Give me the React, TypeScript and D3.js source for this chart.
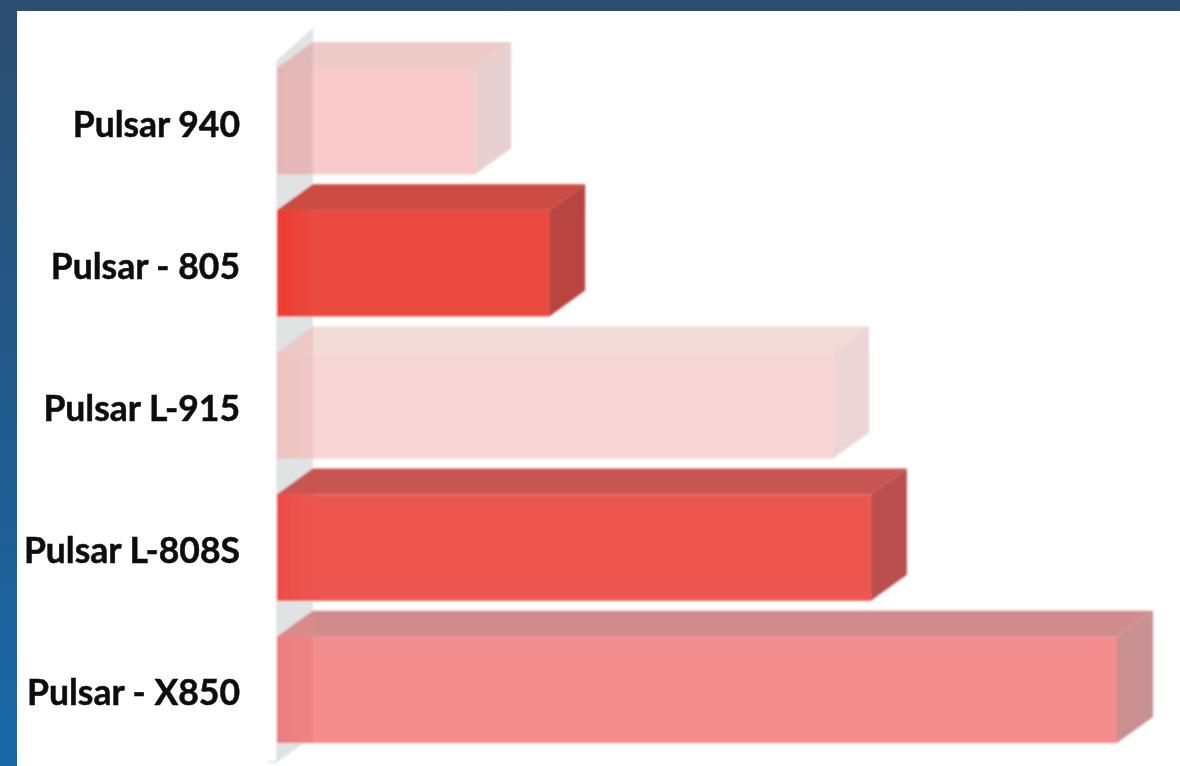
import React from "react";
import * as d3 from "d3";

const categories = ["Pulsar 940", "Pulsar - 805", "Pulsar L-915", "Pulsar L-808S", "Pulsar - X850"];
const values = [23.6, 32.4, 66.2, 70.7, 100];
const frontColors = ["#f8caca", "#ea4a40", "#f8d6d5", "#ec5650", "#f48e8e"];
const topColors = ["#edcbc8", "#cc4b42", "#f1dbd7", "#c95552", "#d08c8c"];
const topLeftColors = ["#e2b9b8", "#cc4b42", "#ecc9c6", "#c95552", "#d98a8a"];
const sideColors = ["#e7d0d0", "#b94440", "#ecd5d5", "#bb4f4e", "#c99092"];
const wallColors = ["#e4b6b6", "#ee3a30", "#eec3c1", "#ee4a46", "#ec7d7d"];
const wallEdgeColors = ["#e6baba", "#ea4a40", "#f0c8c6", "#ec5650", "#ee8383"];

const W = 1180, H = 766;
const x = d3.scaleLinear().domain([0, 100]).range([277, 1117]);
const y = d3.scaleBand<string>().domain(categories).range([68, 743]).paddingInner(0.253);
const dx = 36, dy = -26;
const poly = (p: [number, number][]) => d3.line()(p) + "Z";

export default function App() {
  const bw = y.bandwidth();
  return (
    <svg width={W} height={H} viewBox={`0 0 ${W} ${H}`} style={{ position: "fixed", left: 0, top: 0 }}>
      <defs>
        <linearGradient id="bg" x1="0" y1="0" x2="0" y2="1">
          <stop offset="0" stopColor="#2b4d70" />
          <stop offset="1" stopColor="#1868a8" />
        </linearGradient>
        {categories.map((c, i) => (
          <linearGradient key={c} id={`wall${i}`} x1="0" y1="0" x2="1" y2="0">
            <stop offset="0" stopColor={wallColors[i]} />
            <stop offset="1" stopColor={wallEdgeColors[i]} />
          </linearGradient>
        ))}
        <filter id="soft" x="-5%" y="-5%" width="110%" height="110%">
          <feGaussianBlur stdDeviation="0.9" />
        </filter>
        <filter id="softText"><feGaussianBlur stdDeviation="0.4" /></filter>
      </defs>
      <rect x={0} y={0} width={W} height={H} fill="url(#bg)" />
      <rect x={17} y={11} width={W - 17} height={H - 11} fill="#ffffff" />
      <g filter="url(#soft)">
        <path d={poly([[x(0), 60], [x(0) + dx, 28], [x(0) + dx, 737], [x(0), 762]])} fill="#dfe3e4" />
        <line x1={x(0)} x2={x(0)} y1={60} y2={762} stroke="#d4d8da" strokeWidth={1} />
        <line x1={267} x2={x(0)} y1={762} y2={762} stroke="#c9cccd" strokeWidth={1} />
        {categories.map((c, i) => {
          const x0 = x(0), x1 = x(values[i]), t = y(c)!, b = t + bw;
          return (
            <g key={c}>
              <path d={poly([[x0, t], [x0 + dx, t + dy], [x1 + dx, t + dy], [x1, t]])} fill={topColors[i]} />
              <path d={poly([[x0, t], [x0 + dx, t + dy], [x0 + dx, t]])} fill={topLeftColors[i]} />
              <path d={poly([[x1, t], [x1 + dx, t + dy], [x1 + dx, b + dy], [x1, b]])} fill={sideColors[i]} />
              <rect x={x0} y={t} width={x1 - x0} height={bw} fill={frontColors[i]} />
              <rect x={x0} y={t} width={dx} height={bw} fill={`url(#wall${i})`} />
            </g>
          );
        })}
      </g>
      <g filter="url(#softText)">
        {categories.map((c) => (
          <text key={c} x={240} y={y(c)! + bw / 2 + 15.5} textAnchor="end" fontFamily="Lato" fontWeight={700} fontSize={35.5} stroke="#0b0b0b" strokeWidth={0.5} fill="#0b0b0b">{c}</text>
        ))}
      </g>
    </svg>
  );
}
